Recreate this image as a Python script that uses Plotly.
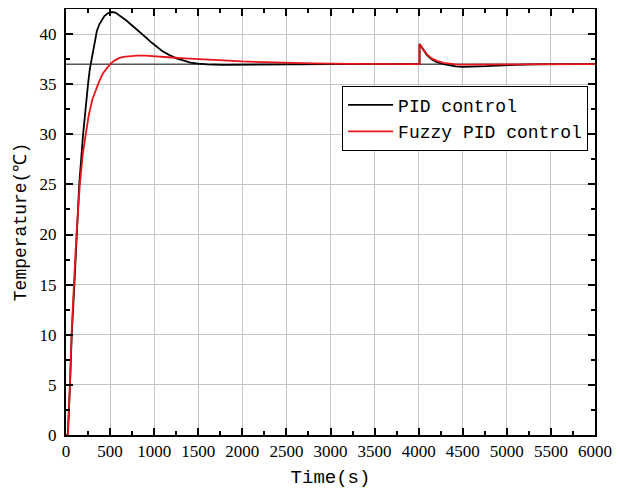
import plotly.graph_objects as go

# Time (s) and temperature (C)
pid_time = [0, 20, 45, 65, 95, 119, 150, 194, 225, 250, 270, 290, 320, 350, 380, 435,
            480, 520, 560, 620, 685, 750, 800, 860, 915, 970, 1030, 1100, 1185, 1260,
            1340, 1410, 1500, 1600, 1780, 2000, 2200, 2600, 3000, 3500, 4010, 4010,
            4030, 4056, 4094, 4150, 4207, 4282, 4350, 4420, 4500, 4620, 4770, 4900,
            5000, 5150, 5300, 5600, 6000]
pid_temp = [0, 0, 5, 10, 15, 20, 25, 30, 33, 35, 36.5, 37.5, 39.2, 40.3, 41.0, 41.8,
            42.1, 42.2, 42.15, 41.8, 41.35, 40.85, 40.5, 40.05, 39.6, 39.15, 38.7,
            38.25, 37.85, 37.55, 37.35, 37.15, 37.05, 36.98, 36.93, 36.95, 36.97, 37.0,
            37.0, 37.0, 37.0, 39.0, 38.75, 38.4, 37.9, 37.45, 37.2, 37.0, 36.88, 36.78,
            36.73, 36.73, 36.8, 36.86, 36.9, 36.94, 36.97, 37.0, 37.0]

fuzzy_time = [0, 22, 45, 63, 90, 119, 157, 190, 224, 260, 300, 340, 373, 420, 460, 500,
              550, 600, 650, 720, 800, 900, 1000, 1100, 1200, 1350, 1500, 1650, 1800,
              2000, 2250, 2500, 2800, 3200, 3600, 4010, 4010, 4030, 4056, 4094, 4150,
              4207, 4282, 4350, 4420, 4500, 4650, 4800, 5000, 6000]
fuzzy_temp = [0, 0, 5, 10, 15, 20, 25, 28, 30, 32, 33.5, 34.5, 35.2, 36.1, 36.6, 37.0,
              37.35, 37.6, 37.73, 37.8, 37.84, 37.84, 37.8, 37.73, 37.66, 37.58, 37.5,
              37.4, 37.33, 37.27, 37.2, 37.13, 37.07, 37.03, 37.0, 37.0, 39.0, 38.78,
              38.45, 37.97, 37.55, 37.32, 37.12, 37.02, 36.97, 36.95, 36.96, 36.98,
              37.0, 37.0]

setpoint_time = [0, 6000]
setpoint_temp = [37, 37]

x_ticks = list(range(0, 6001, 500))
y_ticks = list(range(0, 41, 5))

serif = "Liberation Serif, Times New Roman, serif"
mono = "Liberation Mono, monospace"


def build_figure():
    fig = go.Figure()

    # Setpoint reference line
    fig.add_trace(go.Scatter(x=setpoint_time, y=setpoint_temp, mode="lines",
                             line=dict(color="#555555", width=1.5), showlegend=False))
    fig.add_trace(go.Scatter(x=pid_time, y=pid_temp, mode="lines", name="PID control",
                             line=dict(color="black", width=1.8)))
    fig.add_trace(go.Scatter(x=fuzzy_time, y=fuzzy_temp, mode="lines",
                             name="Fuzzy PID control",
                             line=dict(color="#e8161b", width=1.8)))

    axis_common = dict(
        showline=True, linecolor="black", linewidth=2, mirror="allticks",
        ticks="inside", ticklen=7, tickwidth=1.5, tickcolor="black",
        showgrid=True, gridcolor="#c4c4c4", gridwidth=1, zeroline=False,
        tickfont=dict(family=serif, size=17, color="black"),
        automargin=False,
    )

    fig.update_xaxes(
        **axis_common, range=[0, 6000], tickvals=x_ticks,
        minor=dict(ticks="inside", ticklen=4, tickcolor="black", dtick=250, showgrid=False),
        title=dict(text="Time(s)", font=dict(family=mono, size=19, color="black"), standoff=9),
    )
    fig.update_yaxes(
        **axis_common, range=[0, 42.5], tickvals=y_ticks, ticklabelstandoff=4,
        minor=dict(ticks="inside", ticklen=4, tickcolor="black", dtick=2.5, showgrid=False),
        title=dict(text="Temperature(℃)", font=dict(family=mono, size=18, color="black"),
                   standoff=8),
    )

    # page body adds an 8px offset, so the figure is a bit smaller than the window
    fig.update_layout(
        width=612, height=482,
        margin=dict(l=58, r=25, t=1, b=55),
        paper_bgcolor="white", plot_bgcolor="white",
        legend=dict(x=0.987, y=0.82, xanchor="right", yanchor="top",
                    bgcolor="white", bordercolor="black", borderwidth=1,
                    font=dict(family=mono, size=18, color="black"),
                    tracegroupgap=0, itemwidth=45),
    )
    return fig


def main():
    fig = build_figure()
    fig.write_html("out.html")


if __name__ == "__main__":
    main()
